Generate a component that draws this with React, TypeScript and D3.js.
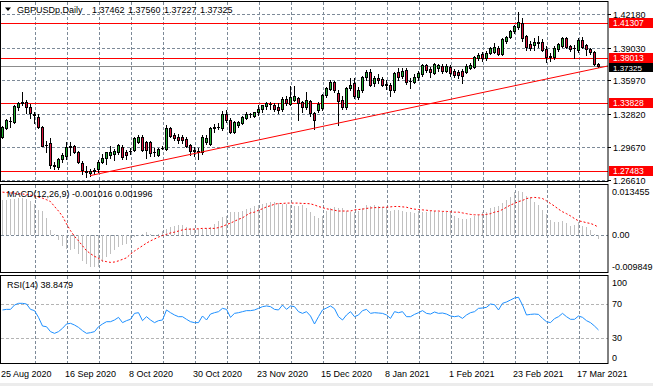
import React, { useRef, useEffect } from 'react';
import * as d3 from 'd3';

const W = 653;
const H = 386;

const titleSymbol = 'GBPUSDp,Daily';
const titleQuote = ['1.37462', '1.37560', '1.37227', '1.37325'];

const opens = [
  1.3063, 1.315, 1.3215, 1.3204, 1.3345, 1.338, 1.3392, 1.3345, 1.328, 1.3251,
  1.3157, 1.2985, 1.3007, 1.28, 1.2781, 1.2856, 1.2885, 1.297, 1.2978, 1.2922,
  1.2819, 1.274, 1.2725, 1.2744, 1.2763, 1.2828, 1.2866, 1.2894, 1.2903, 1.2922,
  1.2969, 1.2922, 1.293, 1.2941, 1.3016, 1.3063, 1.3016, 1.3016, 1.292, 1.2894,
  1.2955, 1.295, 1.3147, 1.3082, 1.3063, 1.3063, 1.3044, 1.2988, 1.2935, 1.2935,
  1.2922, 1.3016, 1.2997, 1.3147, 1.3157, 1.3147, 1.3279, 1.3223, 1.311, 1.3176,
  1.3194, 1.3241, 1.3275, 1.326, 1.3298, 1.3326, 1.3354, 1.3375, 1.3363, 1.3345,
  1.3326, 1.342, 1.3373, 1.341, 1.343, 1.3392, 1.3345, 1.34, 1.3288, 1.3317,
  1.3335, 1.3457, 1.3514, 1.3579, 1.3476, 1.341, 1.3345, 1.3523, 1.357, 1.3439,
  1.3504, 1.3626, 1.3673, 1.357, 1.3617, 1.3608, 1.3555, 1.3555, 1.3504, 1.3673,
  1.3636, 1.3692, 1.359, 1.3579, 1.3626, 1.3655, 1.3739, 1.37, 1.3664, 1.3711,
  1.3725, 1.3683, 1.372, 1.3685, 1.3675, 1.3683, 1.3673, 1.3711, 1.372, 1.3805,
  1.3842, 1.3805, 1.3852, 1.3861, 1.3899, 1.3842, 1.3964, 1.4002, 1.4058, 1.4096,
  1.4134, 1.4011, 1.3936, 1.3927, 1.395, 1.3955, 1.389, 1.3815, 1.3814, 1.389,
  1.3918, 1.3993, 1.3918, 1.3895, 1.388, 1.3974, 1.3927, 1.389, 1.3861, 1.37462,
];
const highs = [
  1.317, 1.3235, 1.325, 1.3365, 1.3395, 1.3482, 1.341, 1.337, 1.33, 1.328,
  1.3165, 1.3025, 1.3055, 1.2825, 1.2865, 1.291, 1.3016, 1.3016, 1.299, 1.2935,
  1.2835, 1.279, 1.2765, 1.277, 1.2845, 1.29, 1.2925, 1.298, 1.295, 1.2995,
  1.299, 1.294, 1.2955, 1.3065, 1.3085, 1.308, 1.3025, 1.303, 1.2955, 1.296,
  1.2975, 1.3175, 1.316, 1.31, 1.309, 1.308, 1.306, 1.3, 1.297, 1.296,
  1.308, 1.308, 1.3155, 1.3185, 1.3195, 1.331, 1.3315, 1.324, 1.321, 1.3215,
  1.326, 1.33, 1.329, 1.33, 1.3365, 1.3365, 1.3395, 1.339, 1.338, 1.338,
  1.344, 1.3445, 1.3542, 1.354, 1.344, 1.34, 1.3486, 1.341, 1.33, 1.339,
  1.3465, 1.353, 1.36, 1.359, 1.3504, 1.345, 1.3535, 1.362, 1.362, 1.353,
  1.364, 1.369, 1.3705, 1.364, 1.365, 1.3625, 1.36, 1.357, 1.3675, 1.371,
  1.371, 1.371, 1.362, 1.365, 1.368, 1.3745, 1.375, 1.372, 1.376, 1.375,
  1.375, 1.3745, 1.374, 1.37, 1.369, 1.37, 1.3745, 1.376, 1.382, 1.385,
  1.3865, 1.387, 1.391, 1.395, 1.392, 1.399, 1.4015, 1.407, 1.4115, 1.4237,
  1.418, 1.402, 1.396, 1.399, 1.401, 1.398, 1.392, 1.385, 1.392, 1.3945,
  1.4, 1.4005, 1.393, 1.3925, 1.399, 1.4005, 1.394, 1.39, 1.3875, 1.3756,
];
const lows = [
  1.305, 1.314, 1.316, 1.3195, 1.332, 1.336, 1.3288, 1.3241, 1.319, 1.315,
  1.2975, 1.2925, 1.2775, 1.2765, 1.2765, 1.283, 1.286, 1.2894, 1.291, 1.282,
  1.272, 1.2687, 1.27, 1.272, 1.2735, 1.2815, 1.281, 1.287, 1.285, 1.29,
  1.286, 1.286, 1.2905, 1.293, 1.3005, 1.293, 1.2866, 1.288, 1.288, 1.2885,
  1.295, 1.294, 1.306, 1.3035, 1.3005, 1.301, 1.2965, 1.2895, 1.2885, 1.2855,
  1.29, 1.2997, 1.2985, 1.311, 1.3135, 1.313, 1.3205, 1.31, 1.3105, 1.316,
  1.3185, 1.323, 1.325, 1.325, 1.327, 1.33, 1.333, 1.333, 1.331, 1.329,
  1.331, 1.3365, 1.336, 1.34, 1.3225, 1.3298, 1.3326, 1.326, 1.3138, 1.3298,
  1.332, 1.344, 1.35, 1.349, 1.3176, 1.333, 1.333, 1.35, 1.343, 1.342,
  1.349, 1.36, 1.3545, 1.354, 1.357, 1.354, 1.351, 1.345, 1.349, 1.36,
  1.362, 1.356, 1.352, 1.357, 1.36, 1.364, 1.367, 1.363, 1.365, 1.368,
  1.366, 1.367, 1.364, 1.363, 1.362, 1.357, 1.366, 1.37, 1.3715, 1.379,
  1.378, 1.379, 1.384, 1.385, 1.383, 1.383, 1.395, 1.399, 1.404, 1.408,
  1.396, 1.388, 1.388, 1.388, 1.391, 1.387, 1.3767, 1.378, 1.38, 1.3875,
  1.3905, 1.39, 1.387, 1.3805, 1.386, 1.3895, 1.383, 1.384, 1.3735, 1.37227,
];
const closes = [
  1.3157, 1.3223, 1.321, 1.3354, 1.3382, 1.3392, 1.3345, 1.3288, 1.327, 1.3157,
  1.2978, 1.2988, 1.28, 1.2795, 1.2856, 1.2894, 1.2969, 1.2978, 1.2922, 1.2828,
  1.2753, 1.2734, 1.2744, 1.275, 1.2828, 1.2866, 1.2922, 1.2922, 1.2932, 1.2988,
  1.2875, 1.2894, 1.2935, 1.3054, 1.3063, 1.2941, 1.2941, 1.2913, 1.2925, 1.295,
  1.296, 1.3147, 1.3072, 1.3054, 1.3035, 1.3035, 1.2978, 1.2932, 1.2941, 1.2925,
  1.3063, 1.3054, 1.3147, 1.3157, 1.316, 1.3279, 1.3223, 1.311, 1.3204, 1.3204,
  1.3251, 1.3279, 1.328, 1.3298, 1.3326, 1.3363, 1.3382, 1.3373, 1.3326, 1.3317,
  1.342, 1.3382, 1.3439, 1.3448, 1.338, 1.3345, 1.341, 1.3288, 1.3223, 1.3373,
  1.3457, 1.3523, 1.3579, 1.3504, 1.34, 1.3345, 1.3523, 1.3551, 1.3448, 1.3504,
  1.3626, 1.3673, 1.3551, 1.3617, 1.3598, 1.3551, 1.356, 1.3504, 1.3664, 1.3626,
  1.3683, 1.3579, 1.3592, 1.3626, 1.3664, 1.3739, 1.3692, 1.3675, 1.3748, 1.3739,
  1.3683, 1.373, 1.3664, 1.3645, 1.3645, 1.3636, 1.373, 1.3739, 1.3814, 1.3833,
  1.3805, 1.3852, 1.3899, 1.3908, 1.3842, 1.3983, 1.4002, 1.4058, 1.4105, 1.4143,
  1.399, 1.3908, 1.3899, 1.3955, 1.3955, 1.388, 1.3814, 1.382, 1.3899, 1.3936,
  1.3993, 1.3908, 1.389, 1.3899, 1.3974, 1.3908, 1.389, 1.3861, 1.3748, 1.37325,
];

const macdMain = [
  0.0093, 0.0093, 0.0095, 0.0095, 0.0097, 0.0097, 0.0095, 0.009, 0.0082, 0.0067,
  0.0064, 0.0044, 0.0014, 0.0002, -0.0013, -0.0029, -0.0038, -0.0039, -0.0038, -0.0051,
  -0.0069, -0.0077, -0.0084, -0.0086, -0.0086, -0.0073, -0.006, -0.0051, -0.0039, -0.0033,
  -0.0027, -0.0024, -0.0013, -0.0007, -0.0002, 0.0001, 0.0007, 0.0001, -0.0002, 0.0002,
  0.0011, 0.0015, 0.002, 0.0024, 0.0026, 0.0026, 0.002, 0.0017, 0.0017, 0.0015,
  0.0015, 0.0017, 0.002, 0.0029, 0.0037, 0.0046, 0.0051, 0.006, 0.006, 0.0061,
  0.0064, 0.0068, 0.007, 0.0075, 0.0079, 0.0082, 0.0084, 0.0088, 0.0086, 0.0084,
  0.0082, 0.0082, 0.0079, 0.0077, 0.0077, 0.0079, 0.007, 0.0061, 0.0051, 0.0044,
  0.0051, 0.0064, 0.007, 0.0073, 0.007, 0.007, 0.0064, 0.006, 0.006, 0.0064,
  0.007, 0.0079, 0.0077, 0.0079, 0.0077, 0.0073, 0.0073, 0.0064, 0.0067, 0.0067,
  0.0064, 0.0061, 0.006, 0.0058, 0.0064, 0.0061, 0.0061, 0.0064, 0.0064, 0.0061,
  0.0061, 0.0061, 0.006, 0.0049, 0.0044, 0.0042, 0.0042, 0.0044, 0.0049, 0.0053,
  0.006, 0.0061, 0.007, 0.0073, 0.0075, 0.0084, 0.0093, 0.0099, 0.0113, 0.0117,
  0.0113, 0.0102, 0.0099, 0.0088, 0.0079, 0.0067, 0.0055, 0.004, 0.0035, 0.0035,
  0.0037, 0.0031, 0.0024, 0.0026, 0.0033, 0.0024, 0.002, 0.0014, 0.0002, -0.001016,
];
const macdSignal = [
  0.0113, 0.0112, 0.0111, 0.011, 0.0109, 0.0108, 0.0107, 0.0105, 0.0103, 0.01,
  0.0097, 0.0093, 0.0088, 0.0075, 0.0063, 0.0049, 0.0029, 0.0011, -0.0004, -0.0016,
  -0.0029, -0.0042, -0.005, -0.0057, -0.0062, -0.0069, -0.0071, -0.0073, -0.0072, -0.0069,
  -0.0065, -0.0061, -0.0051, -0.0043, -0.0036, -0.0029, -0.0022, -0.0016, -0.0011, -0.0006,
  -0.0002, 0.0001, 0.0005, 0.0007, 0.001, 0.0013, 0.0015, 0.0015, 0.0015, 0.0016,
  0.0017, 0.0017, 0.0017, 0.0017, 0.0019, 0.0022, 0.0027, 0.0031, 0.0036, 0.0041,
  0.0045, 0.0052, 0.0058, 0.006, 0.0065, 0.0069, 0.0074, 0.0077, 0.0081, 0.0083,
  0.0083, 0.0084, 0.0084, 0.0084, 0.0084, 0.0083, 0.0083, 0.0082, 0.0079, 0.0075,
  0.0072, 0.0069, 0.0067, 0.0065, 0.0063, 0.0063, 0.0063, 0.0063, 0.0066, 0.0067,
  0.0068, 0.007, 0.0071, 0.0072, 0.0072, 0.0073, 0.0073, 0.0074, 0.0075, 0.0075,
  0.0074, 0.0073, 0.007, 0.0068, 0.0067, 0.0066, 0.0065, 0.0064, 0.0063, 0.0063,
  0.0062, 0.0062, 0.0061, 0.006, 0.006, 0.0058, 0.0056, 0.0054, 0.0053, 0.0053,
  0.0053, 0.0054, 0.0056, 0.006, 0.0062, 0.0067, 0.0073, 0.0079, 0.0083, 0.0088,
  0.0091, 0.0096, 0.0098, 0.0099, 0.0098, 0.0096, 0.009, 0.0083, 0.0076, 0.0068,
  0.0061, 0.0056, 0.005, 0.0043, 0.0037, 0.0035, 0.0032, 0.003, 0.0026, 0.001996,
];
const rsiValues = [
  62.4, 63.1, 63.1, 68.2, 70.2, 70.2, 69.4, 63.1, 61.6, 53.7,
  43.5, 42.7, 36.9, 34.9, 36.9, 40.8, 45.9, 46.7, 44.7, 41.9,
  38.0, 34.9, 35.7, 36.9, 42.7, 45.9, 48.6, 48.6, 50.6, 53.7,
  47.5, 49.8, 51.4, 58.4, 59.2, 49.8, 54.5, 50.6, 47.5, 49.8,
  50.6, 62.4, 59.2, 56.5, 54.5, 54.5, 51.4, 48.6, 47.5, 47.5,
  55.3, 50.6, 57.6, 59.2, 60.4, 64.3, 63.1, 53.7, 58.4, 59.2,
  60.4, 61.6, 61.6, 62.4, 64.3, 66.3, 67.1, 66.3, 63.1, 62.4,
  68.2, 63.1, 67.1, 66.3, 60.4, 58.4, 60.4, 55.3, 45.9, 54.5,
  62.4, 64.7, 67.1, 63.9, 54.5, 50.6, 56.5, 60.4, 54.5, 56.5,
  61.6, 63.1, 58.4, 59.2, 58.8, 58.4, 56.5, 52.5, 60.4, 59.2,
  60.4, 54.5, 54.5, 57.2, 59.2, 61.6, 58.4, 57.6, 60.0, 58.4,
  58.8, 57.6, 55.3, 54.5, 55.3, 52.5, 56.5, 59.2, 60.4, 64.3,
  64.7, 65.5, 69.4, 68.6, 62.4, 70.2, 71.8, 74.1, 76.5, 77.3,
  68.2, 56.5, 57.2, 57.6, 57.2, 52.5, 48.6, 47.5, 52.2, 54.5,
  58.4, 54.5, 51.4, 51.4, 55.3, 53.7, 49.8, 47.5, 43.5, 38.8479,
];

const dateLabels = [
  '25 Aug 2020', '16 Sep 2020', '8 Oct 2020', '30 Oct 2020', '23 Nov 2020',
  '15 Dec 2020', '8 Jan 2021', '1 Feb 2021', '23 Feb 2021', '17 Mar 2021',
];
const barsPerLabel = 16;
const barsPerGrid = 8;

const priceTicks = [1.4218, 1.3903, 1.3597, 1.3282, 1.2967, 1.2661];
const priceLevels = [1.41307, 1.38013, 1.33828, 1.27483];
const lastPrice = 1.37325;
const trendPoints = [
  { bar: 22, price: 1.27 },
  { bar: 151.5, price: 1.373 },
];

const macdTitle = 'MACD(12,26,9) -0.001016 0.001996';
const macdExtent = [-0.009849, 0.013455];
const macdTicks = [0.013455, 0, -0.009849];
const rsiTitle = 'RSI(14) 38.8479';
const rsiTicks = [100, 70, 30, 0];
const rsiLevels = [70, 30];

const FONT = "'Liberation Sans', Arial, sans-serif";
const GRID = '#7d8a98';
const UP = '#20b030';
const DOWN = '#d8143c';

export default function App() {
  const svgEl = useRef<SVGSVGElement | null>(null);

  useEffect(() => {
    const svg = d3.select(svgEl.current);
    svg.selectAll('*').remove();

    const left = 1;
    const right = 608;
    const mainP = { top: 1, bottom: 181 };
    const macdP = { top: 184, bottom: 272 };
    const rsiP = { top: 275, bottom: 363 };

    const x = d3.scaleLinear().domain([0, closes.length - 1]).range([2, 598]);
    const yP = d3.scaleLinear().domain([1.4218, 1.2661]).range([14, 179.8]);
    const yM = d3.scaleLinear().domain(macdExtent).range([macdP.bottom, macdP.top]);
    const yR = d3.scaleLinear().domain([0, 100]).range([rsiP.bottom, rsiP.top + 3]);

    svg.append('rect').attr('width', W).attr('height', H).attr('fill', '#fff');

    const panels = [mainP, macdP, rsiP];
    const gridX = d3.range(barsPerGrid, closes.length, barsPerGrid);

    // vertical dashed grid in every window
    panels.forEach((p) => {
      svg
        .append('g')
        .selectAll('line')
        .data(gridX)
        .enter()
        .append('line')
        .attr('x1', (i) => Math.round(x(i)) + 1.5)
        .attr('x2', (i) => Math.round(x(i)) + 1.5)
        .attr('y1', p.top + 1)
        .attr('y2', p.bottom)
        .attr('stroke', GRID)
        .attr('stroke-dasharray', '3,2');
    });

    // price grid
    svg
      .append('g')
      .selectAll('line')
      .data(priceTicks)
      .enter()
      .append('line')
      .attr('x1', left + 1)
      .attr('x2', right)
      .attr('y1', (d) => Math.round(yP(d)) + 0.5)
      .attr('y2', (d) => Math.round(yP(d)) + 0.5)
      .attr('stroke', GRID)
      .attr('stroke-dasharray', '3,2');

    // horizontal levels
    svg
      .append('g')
      .selectAll('line')
      .data(priceLevels)
      .enter()
      .append('line')
      .attr('x1', left)
      .attr('x2', right)
      .attr('y1', (d) => Math.round(yP(d)) + 0.5)
      .attr('y2', (d) => Math.round(yP(d)) + 0.5)
      .attr('stroke', '#ff0000');

    svg
      .append('line')
      .attr('x1', left)
      .attr('x2', right)
      .attr('y1', Math.round(yP(lastPrice)) + 0.5)
      .attr('y2', Math.round(yP(lastPrice)) + 0.5)
      .attr('stroke', '#8c8c8c');

    // candles
    const bars = closes.map((c, i) => ({ i, o: opens[i], h: highs[i], l: lows[i], c }));
    const cg = svg.append('g');
    const candle = cg.selectAll('g').data(bars).enter().append('g');
    candle
      .append('line')
      .attr('x1', (d) => Math.round(x(d.i)) + 0.5)
      .attr('x2', (d) => Math.round(x(d.i)) + 0.5)
      .attr('y1', (d) => Math.round(yP(d.h)))
      .attr('y2', (d) => Math.round(yP(d.l)) + 1)
      .attr('stroke', '#000');
    candle
      .append('rect')
      .attr('x', (d) => Math.round(x(d.i)) - 1)
      .attr('y', (d) => Math.round(yP(Math.max(d.o, d.c))))
      .attr('width', 3)
      .attr('height', (d) => Math.abs(Math.round(yP(d.o)) - Math.round(yP(d.c))) + 1)
      .attr('fill', '#000');
    candle
      .filter((d) => Math.abs(Math.round(yP(d.o)) - Math.round(yP(d.c))) >= 2)
      .append('rect')
      .attr('x', (d) => Math.round(x(d.i)))
      .attr('y', (d) => Math.round(yP(Math.max(d.o, d.c))) + 1)
      .attr('width', 1)
      .attr('height', (d) => Math.abs(Math.round(yP(d.o)) - Math.round(yP(d.c))) - 1)
      .attr('fill', (d) => (d.c >= d.o ? UP : DOWN));

    // trend line
    const clipId = 'mainClip';
    svg
      .append('clipPath')
      .attr('id', clipId)
      .append('rect')
      .attr('x', left)
      .attr('y', mainP.top)
      .attr('width', right - left)
      .attr('height', mainP.bottom - mainP.top);
    const trend = d3
      .line<{ bar: number; price: number }>()
      .x((d) => x(d.bar))
      .y((d) => yP(d.price));
    svg
      .append('path')
      .attr('d', trend(trendPoints))
      .attr('clip-path', `url(#${clipId})`)
      .attr('fill', 'none')
      .attr('stroke', '#ff0000')
      .attr('stroke-width', 1);

    // MACD window
    svg
      .append('line')
      .attr('x1', left)
      .attr('x2', right)
      .attr('y1', Math.round(yM(0)) + 0.5)
      .attr('y2', Math.round(yM(0)) + 0.5)
      .attr('stroke', GRID)
      .attr('stroke-dasharray', '3,2');
    svg
      .append('g')
      .selectAll('line')
      .data(macdMain)
      .enter()
      .append('line')
      .attr('x1', (d, i) => Math.round(x(i)) + 0.5)
      .attr('x2', (d, i) => Math.round(x(i)) + 0.5)
      .attr('y1', Math.round(yM(0)))
      .attr('y2', (d) => Math.round(yM(d)))
      .attr('stroke', '#c0c0c0');
    const sigLine = d3
      .line<number>()
      .x((d, i) => x(i) + 0.5)
      .y((d) => yM(d));
    svg
      .append('path')
      .attr('d', sigLine(macdSignal))
      .attr('fill', 'none')
      .attr('stroke', '#ff0000')
      .attr('stroke-dasharray', '2,2');

    // RSI window
    svg
      .append('g')
      .selectAll('line')
      .data(rsiLevels)
      .enter()
      .append('line')
      .attr('x1', left)
      .attr('x2', right)
      .attr('y1', (d) => Math.round(yR(d)) + 0.5)
      .attr('y2', (d) => Math.round(yR(d)) + 0.5)
      .attr('stroke', '#b4b4b4')
      .attr('stroke-dasharray', '3,2');
    const rsiLine = d3
      .line<number>()
      .x((d, i) => x(i) + 0.5)
      .y((d) => yR(d));
    svg
      .append('path')
      .attr('d', rsiLine(rsiValues))
      .attr('fill', 'none')
      .attr('stroke', '#1e90ff');

    // window frames
    panels.forEach((p) => {
      svg
        .append('rect')
        .attr('x', 0.5)
        .attr('y', p.top + 0.5)
        .attr('width', right - 0.5)
        .attr('height', p.bottom - p.top)
        .attr('fill', 'none')
        .attr('stroke', '#000');
    });

    const label = (tx: number, ty: number, s: string, fill = '#000', size = 9) =>
      svg
        .append('text')
        .attr('x', tx)
        .attr('y', ty)
        .attr('font-family', FONT)
        .attr('font-size', size)
        .attr('fill', fill)
        .style('white-space', 'pre')
        .text(s);

    // titles
    svg
      .append('path')
      .attr('d', 'M5,7.5 L11,7.5 L8,11 Z')
      .attr('fill', '#000');
    label(17, 13, titleSymbol);
    titleQuote.forEach((q, k) => label(92 + k * 36, 13, q));
    label(7, 197, macdTitle);
    label(7, 288, rsiTitle);

    // price axis
    priceTicks.forEach((t) => {
      const ty = Math.round(yP(t));
      svg.append('line').attr('x1', right).attr('x2', right + 3).attr('y1', ty + 0.5).attr('y2', ty + 0.5).attr('stroke', '#000');
      label(613, ty + 3.5, t.toFixed(5));
    });
    priceLevels.forEach((t) => {
      const ty = Math.round(yP(t));
      svg.append('rect').attr('x', 609).attr('y', ty - 5).attr('width', 44).attr('height', 10).attr('fill', '#ff0000');
      label(613, ty + 3, t.toFixed(5), '#fff', 8.5);
    });
    {
      const ty = Math.round(yP(lastPrice));
      svg.append('rect').attr('x', 609).attr('y', ty - 3).attr('width', 44).attr('height', 9).attr('fill', '#000');
      label(613, ty + 5, lastPrice.toFixed(5), '#fff', 8);
    }

    // MACD axis
    macdTicks.forEach((t) => {
      const ty = Math.max(macdP.top + 7, Math.min(macdP.bottom - 6, yM(t)));
      label(612, ty + 3.5, t === 0 ? '0.00' : String(t));
    });
    // RSI axis
    rsiTicks.forEach((t) => {
      const ty = Math.max(rsiP.top + 7, Math.min(rsiP.bottom - 6, yR(t)));
      label(612, ty + 3.5, String(t));
    });

    // time axis
    dateLabels.forEach((s, k) => {
      label(Math.round(x(k * barsPerLabel)) - 1, 377, s);
    });

    svg.append('rect').attr('x', 0).attr('y', 383).attr('width', W).attr('height', 3).attr('fill', '#ececec');
  }, []);

  return (
    <svg
      ref={svgEl}
      width={W}
      height={H}
      style={{ position: 'absolute', left: 0, top: 0 }}
    ></svg>
  );
}
